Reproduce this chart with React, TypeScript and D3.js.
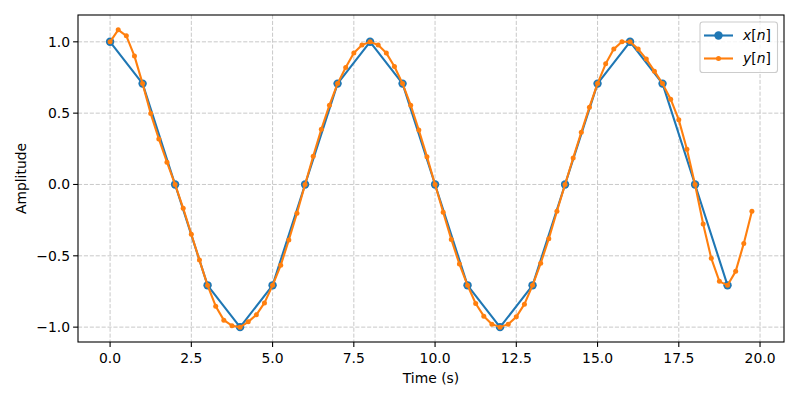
import * as d3 from "d3"

// original samples x[n], n = 0..19 (1 s apart)
const xTimes = [0, 1, 2, 3, 4, 5, 6, 7, 8, 9, 10, 11, 12, 13, 14, 15, 16, 17, 18, 19]
const xValues = [
  1.0, 0.707, 0.0, -0.707, -1.0, -0.707, 0.0, 0.707, 1.0, 0.707,
  0.0, -0.707, -1.0, -0.707, 0.0, 0.707, 1.0, 0.707, 0.0, -0.707,
]

// interpolated output y[n], 0.25 s apart
const yStep = 0.25
const yValues = [
  1.0, 1.084, 1.042, 0.9, 0.707, 0.497, 0.319, 0.156,
  0.0, -0.167, -0.349, -0.53, -0.707, -0.853, -0.951, -0.99,
  -1.0, -0.963, -0.914, -0.83, -0.707, -0.567, -0.389, -0.202,
  0.0, 0.198, 0.387, 0.556, 0.707, 0.82, 0.921, 0.977,
  1.0, 0.977, 0.921, 0.827, 0.707, 0.556, 0.382, 0.195,
  0.0, -0.195, -0.385, -0.558, -0.707, -0.834, -0.923, -0.979,
  -1.0, -0.979, -0.928, -0.839, -0.707, -0.553, -0.38, -0.188,
  0.0, 0.186, 0.366, 0.542, 0.707, 0.846, 0.949, 1.0,
  1.0, 0.949, 0.879, 0.794, 0.707, 0.598, 0.453, 0.247,
  0.0, -0.277, -0.518, -0.679, -0.707, -0.609, -0.413, -0.188,
]

const xTicks = [0, 2.5, 5, 7.5, 10, 12.5, 15, 17.5, 20]
const yTicks = [-1, -0.5, 0, 0.5, 1]

const BLUE = "#1f77b4"
const ORANGE = "#ff7f0e"
const FONT = "DejaVu Sans, sans-serif"

export default function App() {
  const width = 800
  const height = 400
  const m = { left: 78, right: 784, top: 15, bottom: 342 }

  const xs = d3.scaleLinear().domain([-0.9875, 20.7375]).range([m.left, m.right])
  const ys = d3.scaleLinear().domain([-1.1042, 1.188]).range([m.bottom, m.top])

  const xPts: [number, number][] = xTimes.map((t, i) => [t, xValues[i]])
  const yPts: [number, number][] = yValues.map((v, i) => [i * yStep, v])

  const line = d3
    .line<[number, number]>()
    .x((d) => xs(d[0]))
    .y((d) => ys(d[1]))

  const fmt = (v: number) => d3.format(".1f")(v).replace("-", "\u2212")

  const legX = 700
  const legY = 22

  return (
    <svg
      width={width}
      height={height}
      style={{ position: "absolute", left: 0, top: 0, background: "#fff" }}
      fontFamily={FONT}
    >
      <rect x={0} y={0} width={width} height={height} fill="#fff" />

      {/* grid */}
      <g stroke="#b0b0b0" strokeWidth={0.8} strokeDasharray="4.1,1.8" opacity={0.85}>
        {xTicks.map((t) => (
          <line key={"gx" + t} x1={xs(t)} x2={xs(t)} y1={m.top} y2={m.bottom} />
        ))}
        {yTicks.map((t) => (
          <line key={"gy" + t} x1={m.left} x2={m.right} y1={ys(t)} y2={ys(t)} />
        ))}
      </g>

      {/* x[n] */}
      <path d={line(xPts) || ""} fill="none" stroke={BLUE} strokeWidth={2.1} strokeLinejoin="round" />
      {xPts.map((d, i) => (
        <circle key={"xm" + i} cx={xs(d[0])} cy={ys(d[1])} r={4.2} fill={BLUE} />
      ))}

      {/* y[n] */}
      <path d={line(yPts) || ""} fill="none" stroke={ORANGE} strokeWidth={2.1} strokeLinejoin="round" />
      {yPts.map((d, i) => (
        <circle key={"ym" + i} cx={xs(d[0])} cy={ys(d[1])} r={2.5} fill={ORANGE} />
      ))}

      {/* frame */}
      <rect
        x={m.left}
        y={m.top}
        width={m.right - m.left}
        height={m.bottom - m.top}
        fill="none"
        stroke="#000"
        strokeWidth={1.1}
      />

      {/* x axis */}
      <g fontSize={13.9} fill="#000">
        {xTicks.map((t) => (
          <g key={"xt" + t}>
            <line x1={xs(t)} x2={xs(t)} y1={m.bottom} y2={m.bottom + 4.9} stroke="#000" strokeWidth={1.1} />
            <text x={xs(t)} y={m.bottom + 20.5} textAnchor="middle">
              {fmt(t)}
            </text>
          </g>
        ))}
        <text x={(m.left + m.right) / 2} y={383} textAnchor="middle">
          Time (s)
        </text>
      </g>

      {/* y axis */}
      <g fontSize={13.9} fill="#000">
        {yTicks.map((t) => (
          <g key={"yt" + t}>
            <line x1={m.left - 4.9} x2={m.left} y1={ys(t)} y2={ys(t)} stroke="#000" strokeWidth={1.1} />
            <text x={m.left - 8} y={ys(t)} dy="0.35em" textAnchor="end">
              {fmt(t)}
            </text>
          </g>
        ))}
        <text transform={`translate(26,${(m.top + m.bottom) / 2}) rotate(-90)`} textAnchor="middle">
          Amplitude
        </text>
      </g>

      {/* legend */}
      <g>
        <rect
          x={legX}
          y={legY}
          width={77.5}
          height={50.5}
          rx={2.8}
          fill="#fff"
          fillOpacity={0.8}
          stroke="#cccccc"
          strokeWidth={1.1}
        />
        <line x1={704} x2={733} y1={35.5} y2={35.5} stroke={BLUE} strokeWidth={2.1} />
        <circle cx={718.5} cy={35.5} r={4.2} fill={BLUE} />
        <text x={743} y={35.5} dy="0.35em" fontSize={13.9}>
          <tspan fontStyle="italic">x</tspan>[<tspan fontStyle="italic">n</tspan>]
        </text>
        <line x1={704} x2={733} y1={58.5} y2={58.5} stroke={ORANGE} strokeWidth={2.1} />
        <circle cx={718.5} cy={58.5} r={2.5} fill={ORANGE} />
        <text x={743} y={58.5} dy="0.35em" fontSize={13.9}>
          <tspan fontStyle="italic">y</tspan>[<tspan fontStyle="italic">n</tspan>]
        </text>
      </g>
    </svg>
  )
}
